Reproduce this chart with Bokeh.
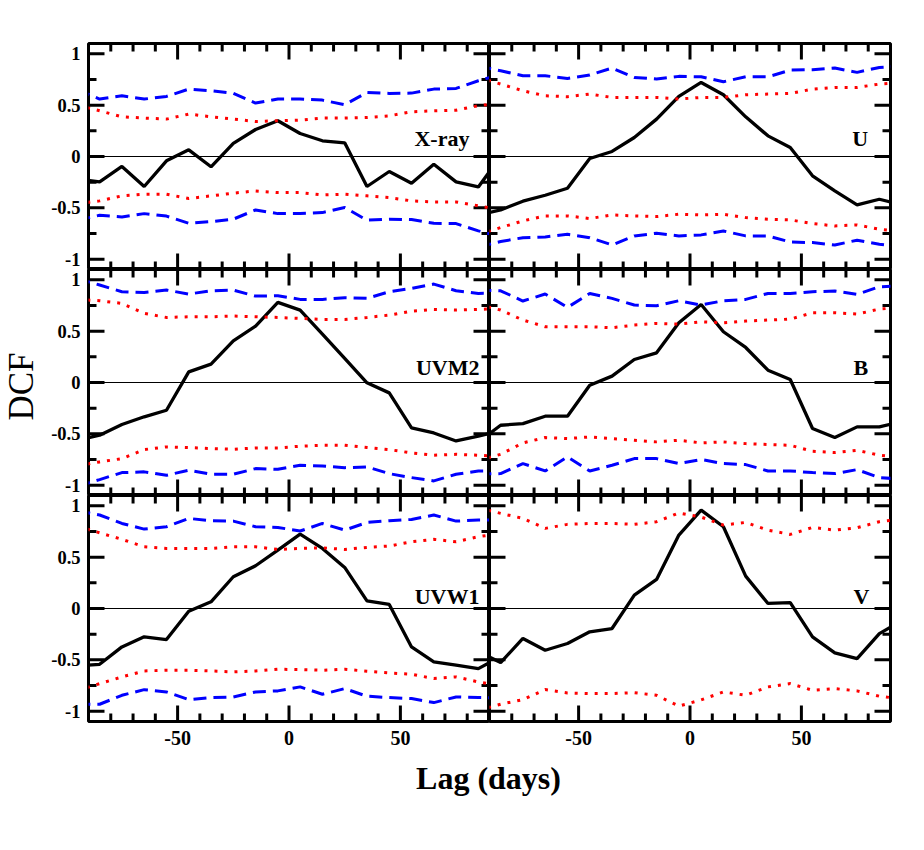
import numpy as np
from bokeh.plotting import figure
from bokeh.models import Range1d, FixedTicker, Span, Label, LinearAxis
from bokeh.layouts import row, column
from bokeh.embed import file_html
from bokeh.resources import INLINE

# ---------------- data ----------------
lags = [-95, -85, -75, -65, -55, -45, -35, -25, -15, -5,
        5, 15, 25, 35, 45, 55, 65, 75, 85, 95]

panel_names = ["X-ray", "U", "UVM2", "B", "UVW1", "V"]

xray_dcf = [-0.22, -0.247, -0.097, -0.292, -0.042, 0.065, -0.10, 0.127, 0.263, 0.348,
            0.224, 0.153, 0.133, -0.292, -0.146, -0.26, -0.075, -0.247, -0.296, 0.0]
xray_hi95 = [0.65, 0.559, 0.591, 0.559, 0.585, 0.656, 0.64, 0.614, 0.52, 0.559,
             0.559, 0.549, 0.504, 0.624, 0.614, 0.617, 0.656, 0.663, 0.737, 0.80]
xray_lo95 = [-0.62, -0.572, -0.588, -0.556, -0.58, -0.65, -0.634, -0.61, -0.52, -0.556,
             -0.556, -0.546, -0.497, -0.62, -0.61, -0.614, -0.65, -0.653, -0.724, -0.78]
xray_hi90 = [0.50, 0.445, 0.387, 0.374, 0.364, 0.413, 0.387, 0.364, 0.341, 0.348,
             0.354, 0.374, 0.374, 0.38, 0.396, 0.435, 0.445, 0.451, 0.494, 0.52]
xray_lo90 = [-0.46, -0.432, -0.383, -0.367, -0.367, -0.409, -0.383, -0.357, -0.335, -0.351,
             -0.351, -0.374, -0.367, -0.383, -0.40, -0.432, -0.442, -0.442, -0.481, -0.52]

u_dcf = [-0.57, -0.52, -0.435, -0.377, -0.309, -0.019, 0.049, 0.185, 0.364, 0.585,
         0.721, 0.601, 0.386, 0.201, 0.088, -0.188, -0.335, -0.471, -0.416, -0.47]
u_hi95 = [0.88, 0.835, 0.786, 0.786, 0.76, 0.793, 0.861, 0.77, 0.754, 0.78,
          0.776, 0.728, 0.776, 0.776, 0.841, 0.845, 0.861, 0.819, 0.867, 0.88]
u_lo95 = [-0.88, -0.828, -0.79, -0.783, -0.757, -0.79, -0.861, -0.773, -0.747, -0.773,
          -0.763, -0.725, -0.773, -0.773, -0.832, -0.838, -0.861, -0.815, -0.854, -0.88]
u_hi90 = [0.77, 0.705, 0.64, 0.591, 0.582, 0.608, 0.575, 0.575, 0.575, 0.559,
          0.575, 0.575, 0.601, 0.608, 0.614, 0.656, 0.672, 0.672, 0.705, 0.72]
u_lo90 = [-0.76, -0.692, -0.627, -0.578, -0.578, -0.604, -0.569, -0.578, -0.585, -0.562,
          -0.569, -0.562, -0.595, -0.611, -0.617, -0.653, -0.676, -0.666, -0.708, -0.73]

uvm2_dcf = [-0.56, -0.513, -0.409, -0.334, -0.27, 0.104, 0.179, 0.406, 0.549, 0.78,
            0.705, 0.471, 0.234, -0.003, -0.101, -0.442, -0.491, -0.569, -0.523, -0.47]
uvm2_hi95 = [1.01, 0.949, 0.884, 0.877, 0.90, 0.861, 0.893, 0.90, 0.841, 0.845,
             0.809, 0.809, 0.825, 0.819, 0.884, 0.916, 0.958, 0.893, 0.867, 0.87]
uvm2_lo95 = [-1.01, -0.945, -0.877, -0.87, -0.903, -0.854, -0.893, -0.893, -0.838, -0.845,
             -0.806, -0.812, -0.829, -0.822, -0.887, -0.926, -0.958, -0.893, -0.861, -0.86]
uvm2_hi90 = [0.81, 0.796, 0.77, 0.673, 0.633, 0.64, 0.64, 0.647, 0.64, 0.633,
             0.624, 0.614, 0.614, 0.633, 0.656, 0.695, 0.711, 0.705, 0.711, 0.72]
uvm2_lo90 = [-0.81, -0.773, -0.741, -0.653, -0.627, -0.633, -0.643, -0.65, -0.637, -0.637,
             -0.62, -0.611, -0.611, -0.633, -0.653, -0.686, -0.708, -0.699, -0.708, -0.72]

b_dcf = [-0.58, -0.416, -0.40, -0.328, -0.328, -0.026, 0.062, 0.224, 0.289, 0.582,
         0.76, 0.494, 0.341, 0.12, 0.029, -0.448, -0.536, -0.432, -0.432, -0.38]
b_hi95 = [0.90, 0.893, 0.793, 0.861, 0.731, 0.867, 0.819, 0.754, 0.747, 0.796,
          0.754, 0.796, 0.809, 0.867, 0.867, 0.884, 0.89, 0.858, 0.932, 0.94]
b_lo95 = [-0.89, -0.887, -0.789, -0.861, -0.724, -0.861, -0.806, -0.741, -0.741, -0.789,
          -0.75, -0.789, -0.799, -0.861, -0.861, -0.877, -0.887, -0.848, -0.926, -0.94]
b_hi90 = [0.76, 0.705, 0.608, 0.543, 0.543, 0.543, 0.533, 0.559, 0.575, 0.569,
          0.591, 0.582, 0.598, 0.608, 0.617, 0.679, 0.679, 0.666, 0.715, 0.73]
b_lo90 = [-0.76, -0.699, -0.588, -0.536, -0.546, -0.53, -0.546, -0.562, -0.578, -0.562,
          -0.588, -0.578, -0.595, -0.604, -0.611, -0.669, -0.682, -0.66, -0.708, -0.73]

uvw1_dcf = [-0.56, -0.543, -0.374, -0.276, -0.302, -0.026, 0.065, 0.309, 0.416, 0.569,
            0.724, 0.585, 0.40, 0.075, 0.039, -0.374, -0.52, -0.552, -0.585, -0.47]
uvw1_hi95 = [0.95, 0.91, 0.828, 0.773, 0.796, 0.877, 0.854, 0.851, 0.796, 0.789,
             0.754, 0.828, 0.763, 0.838, 0.854, 0.867, 0.91, 0.851, 0.861, 0.86]
uvw1_lo95 = [-0.93, -0.932, -0.845, -0.79, -0.812, -0.887, -0.867, -0.861, -0.812, -0.802,
             -0.763, -0.835, -0.78, -0.854, -0.867, -0.877, -0.916, -0.861, -0.867, -0.87]
uvw1_hi90 = [0.80, 0.737, 0.673, 0.601, 0.585, 0.585, 0.585, 0.601, 0.601, 0.575,
             0.585, 0.591, 0.575, 0.595, 0.608, 0.65, 0.673, 0.65, 0.699, 0.73]
uvw1_lo90 = [-0.80, -0.731, -0.666, -0.608, -0.601, -0.601, -0.608, -0.617, -0.608, -0.591,
             -0.595, -0.601, -0.591, -0.611, -0.627, -0.64, -0.682, -0.666, -0.715, -0.75]

v_dcf = [-0.42, -0.526, -0.292, -0.406, -0.341, -0.227, -0.195, 0.130, 0.283, 0.715,
         0.958, 0.796, 0.315, 0.049, 0.058, -0.276, -0.432, -0.487, -0.244, -0.12]
v_hi90 = [0.98, 0.926, 0.877, 0.78, 0.819, 0.828, 0.828, 0.819, 0.845, 0.93,
          0.89, 0.812, 0.838, 0.763, 0.721, 0.789, 0.763, 0.786, 0.845, 0.87]
v_lo90 = [-0.99, -0.932, -0.887, -0.789, -0.822, -0.828, -0.828, -0.819, -0.845, -0.95,
          -0.89, -0.812, -0.845, -0.763, -0.731, -0.796, -0.78, -0.802, -0.854, -0.88]

x_major = [-50, 0, 50]
x_minor = [-80, -70, -60, -40, -30, -20, -10, 10, 20, 30, 40, 60, 70, 80]
y_major = [-1, -0.5, 0, 0.5, 1]
y_minor = [-0.75, -0.25, 0.25, 0.75]
x_labels = {-50: "-50", 0: "0", 50: "50"}
y_labels = {-1: "-1", -0.5: "-0.5", 0: "0", 0.5: "0.5", 1: "1"}

panels = [
    (xray_dcf, xray_hi95, xray_lo95, xray_hi90, xray_lo90),
    (u_dcf, u_hi95, u_lo95, u_hi90, u_lo90),
    (uvm2_dcf, uvm2_hi95, uvm2_lo95, uvm2_hi90, uvm2_lo90),
    (b_dcf, b_hi95, b_lo95, b_hi90, b_lo90),
    (uvw1_dcf, uvw1_hi95, uvw1_lo95, uvw1_hi90, uvw1_lo90),
    (v_dcf, None, None, v_hi90, v_lo90),
]

# ---------------- layout / style ----------------
FONT = "Liberation Serif"
X0, XMAX, YMIN, YMAX = -90, 90, -1.1, 1.1
FRAME_W, FRAME_H = 401, 226
LEFT_B, RIGHT_B, TOP_B, BOT_B = 45, 6, 43, 40
DCF_W = 43
MAJOR_LEN, MINOR_LEN = 16, 8   # inward tick lengths in px
PX_X = (XMAX - X0) / FRAME_W   # data units per pixel
PX_Y = (YMAX - YMIN) / FRAME_H
# panel-name anchor (right end, vertical middle of the text) in data units
label_pos = [(81, 0.175), (80, 0.175), (85.5, 0.15), (80, 0.15), (85.5, 0.121), (80.5, 0.121)]


def label_axis(is_y, size, standoff):
    if is_y:
        ax = LinearAxis(ticker=FixedTicker(ticks=y_major, minor_ticks=[]),
                        major_label_overrides=y_labels)
    else:
        ax = LinearAxis(ticker=FixedTicker(ticks=x_major, minor_ticks=[]),
                        major_label_overrides=x_labels)
    ax.axis_line_color = None
    ax.major_tick_line_color = None
    ax.minor_tick_line_color = None
    ax.major_tick_in = 0
    ax.major_tick_out = 0
    ax.minor_tick_in = 0
    ax.minor_tick_out = 0
    ax.major_label_standoff = standoff
    ax.major_label_text_font = FONT
    ax.major_label_text_font_style = "bold"
    ax.major_label_text_font_size = size
    ax.major_label_text_color = "black"
    return ax


def add_inward_ticks(p):
    """Inward tick marks on all four frame edges, drawn as one broken line
    (NaN-separated pieces) per edge and tick class; each piece starts a little
    outside the frame so the frame clip leaves a clean inward tick."""
    nan = float("nan")
    for ticks, length in ((x_major, MAJOR_LEN), (x_minor, MINOR_LEN)):
        d = length * PX_Y
        for edge, sgn in ((YMAX, -1), (YMIN, 1)):
            xs, ys = [], []
            for t in ticks:
                xs += [t, t, nan]
                ys += [edge - sgn * 3 * PX_Y, edge + sgn * d, nan]
            p.line(xs, ys, line_color="black", line_width=3)
    for ticks, length in ((y_major, MAJOR_LEN), (y_minor, MINOR_LEN)):
        d = length * PX_X
        for edge, sgn in ((X0, 1), (XMAX, -1)):
            xs, ys = [], []
            for t in ticks:
                xs += [edge - sgn * 3 * PX_X, edge + sgn * d, nan]
                ys += [t, t, nan]
            p.line(xs, ys, line_color="black", line_width=3)


def hide_grid(p):
    for g in p.grid:
        g.visible = False


def make_panel(i):
    r, c = divmod(i, 2)
    is_left, is_top, is_bottom = c == 0, r == 0, r == 2
    bl = LEFT_B if is_left else 0
    br = 0 if is_left else RIGHT_B
    bt = TOP_B if is_top else 0
    bb = BOT_B if is_bottom else 0
    p = figure(width=FRAME_W + bl + br, height=FRAME_H + bt + bb,
               x_range=Range1d(X0, XMAX), y_range=Range1d(YMIN, YMAX),
               output_backend="svg", toolbar_location=None, tools="",
               x_axis_location=None, y_axis_location=None,
               min_border_left=bl, min_border_right=br,
               min_border_top=bt, min_border_bottom=bb,
               background_fill_color="white", border_fill_color="white")
    hide_grid(p)
    p.outline_line_color = "black"
    p.outline_line_width = 3
    p.outline_line_alpha = 1.0

    if is_left:
        p.add_layout(label_axis(True, "18.5px", 8), "left")
    if is_bottom:
        p.add_layout(label_axis(False, "20px", 9), "below")

    add_inward_ticks(p)
    p.add_layout(Span(location=0, dimension="width", line_color="black", line_width=1))
    dcf, hi95, lo95, hi90, lo90 = panels[i]
    p.line(lags, dcf, line_color="black", line_width=3.3)
    p.line(lags, hi90, line_color="#ff0000", line_width=3, line_dash="3 7")
    p.line(lags, lo90, line_color="#ff0000", line_width=3, line_dash="3 7")
    if hi95 is not None:
        p.line(lags, hi95, line_color="#0000ff", line_width=3, line_dash="13 7")
        p.line(lags, lo95, line_color="#0000ff", line_width=3, line_dash="13 7")
    lx, ly = label_pos[i]
    p.add_layout(Label(x=lx, y=ly, text=panel_names[i], text_align="right",
                       text_baseline="middle", text_font=FONT,
                       text_font_style="bold", text_font_size="22px",
                       text_color="black"))
    return p


figs = [make_panel(i) for i in range(6)]
grid_h = 3 * FRAME_H + TOP_B + BOT_B

dcf_fig = figure(width=DCF_W, height=grid_h, x_range=Range1d(0, DCF_W),
                 y_range=Range1d(0, grid_h), output_backend="svg",
                 toolbar_location=None, tools="", x_axis_location=None,
                 y_axis_location=None, min_border=0, outline_line_color=None)
hide_grid(dcf_fig)
dcf_fig.add_layout(Label(x=21, y=grid_h - 386, text="DCF", angle=np.pi / 2,
                         text_align="center", text_baseline="middle",
                         text_font=FONT, text_font_size="35px", text_color="black"))

total_w = DCF_W + (FRAME_W + LEFT_B) + (FRAME_W + RIGHT_B)
LAG_H = 60
lag_fig = figure(width=total_w, height=LAG_H, x_range=Range1d(0, total_w),
                 y_range=Range1d(0, LAG_H), output_backend="svg",
                 toolbar_location=None, tools="", x_axis_location=None,
                 y_axis_location=None, min_border=0, outline_line_color=None)
hide_grid(lag_fig)
lag_fig.add_layout(Label(x=488, y=LAG_H - 16, text="Lag (days)", text_align="center",
                         text_baseline="middle", text_font=FONT,
                         text_font_style="bold", text_font_size="32px",
                         text_color="black"))

grid = column(row(figs[0], figs[1]), row(figs[2], figs[3]), row(figs[4], figs[5]))
root = column(row(dcf_fig, grid), lag_fig)

open("out.html", "w").write(file_html(root, INLINE))
